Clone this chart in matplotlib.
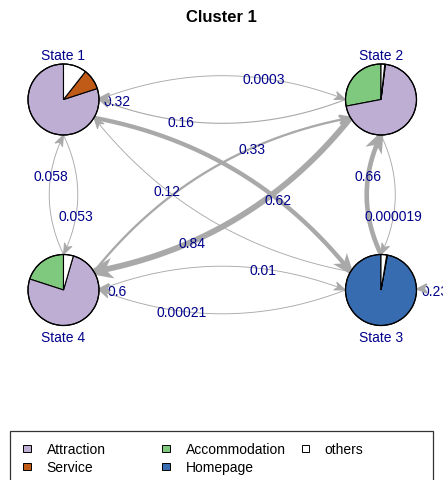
import numpy as np
import matplotlib
matplotlib.use("Agg")
import matplotlib.pyplot as plt
from matplotlib.patches import Wedge, Polygon, Rectangle

# ---- data -------------------------------------------------------------
states = ["State 1", "State 2", "State 3", "State 4"]

# observed symbols (legend order) and their colours
symbols = ["Attraction", "Service", "Accommodation", "Homepage", "others"]
symbol_colors = ["#BEAED4", "#BF5B17", "#7FC97F", "#386CB0", "#FFFFFF"]

# emission probabilities per hidden state, columns follow `symbols`
emission_s1 = [0.800, 0.094, 0.000, 0.000, 0.106]
emission_s2 = [0.700, 0.003, 0.280, 0.000, 0.017]
emission_s3 = [0.000, 0.003, 0.000, 0.971, 0.026]
emission_s4 = [0.755, 0.000, 0.200, 0.000, 0.045]
emissions = [emission_s1, emission_s2, emission_s3, emission_s4]

# transition probabilities (from, to, probability)
trans_from = [0, 0, 0, 0, 1, 1, 1, 2, 2, 2, 2, 3, 3, 3, 3]
trans_to   = [0, 1, 2, 3, 0, 2, 3, 0, 1, 2, 3, 0, 1, 2, 3]
trans_prob = [0.32, 0.0003, 0.62, 0.053,
              0.16, 0.000019, 0.84,
              0.12, 0.66, 0.23, 0.00021,
              0.058, 0.33, 0.01, 0.6]

# ---- layout (pixel space) ----------------------------------------------
W, H = 443, 481
node_xy = {0: (63.5, 100.5), 1: (381.0, 100.5), 2: (381.0, 291.0), 3: (63.5, 291.0)}
node_r = 35.5
label_below = {0: False, 1: False, 2: True, 3: True}
pie_order = [2, 0, 3, 1, 4]          # slice order counter-clockwise from 12 o'clock
edge_color = "#A9A9A9"
text_color = "#00008B"
curv = 0.15
label_t = 2.0 / 3.0

plt.rcParams["font.family"] = ["Liberation Sans", "DejaVu Sans"]

fig = plt.figure(figsize=(W / 100, H / 100), dpi=100)
ax = fig.add_axes([0, 0, 1, 1])
ax.set_xlim(0, W)
ax.set_ylim(H, 0)
ax.axis("off")


def fmt(p):
    return np.format_float_positional(p, trim="-")


def edge_width(p):
    return max(0.9, 7.0 * p)


def arrow_head(tip, u, w, length=11.0, half=4.2, notch=3.0, z=4):
    u = np.asarray(u) / np.linalg.norm(u)
    perp = np.array([-u[1], u[0]])
    tip = np.asarray(tip)
    pts = [tip,
           tip - length * u + half * perp,
           tip - (length - notch) * u,
           tip - length * u - half * perp]
    ax.add_patch(Polygon(pts, closed=True, facecolor=edge_color,
                         edgecolor=edge_color, lw=w * 0.72,
                         joinstyle="miter", zorder=z))
    return length - notch


# ---- self transitions ---------------------------------------------------
for f, t, p in zip(trans_from, trans_to, trans_prob):
    if f != t:
        continue
    cx, cy = node_xy[f]
    w = edge_width(p)
    tip = np.array([cx + node_r + 0.5, cy - 1.0])
    ax.text(cx + node_r + 18.5, cy + 5, fmt(p), color=text_color,
            fontsize=10, ha="center", va="baseline", zorder=3)
    arrow_head(tip, (-1.0, 0.05), min(w, 2.2), length=10.0, half=4.5, z=4)

# ---- transitions between states -----------------------------------------
tt = np.linspace(0, 1, 400)
for f, t, p in zip(trans_from, trans_to, trans_prob):
    if f == t:
        continue
    c0 = np.array(node_xy[f])
    c1 = np.array(node_xy[t])
    L = np.linalg.norm(c1 - c0)
    d = (c1 - c0) / L
    n = np.array([d[1], -d[0]])
    p0 = c0 + node_r * d
    p2 = c1 - node_r * d
    ctrl = (p0 + p2) / 2 + curv * L * n
    pts = ((1 - tt)[:, None] ** 2) * p0 + (2 * tt * (1 - tt))[:, None] * ctrl \
        + (tt[:, None] ** 2) * p2
    w = edge_width(p)
    back = arrow_head(p2, p2 - ctrl, w, z=2.5)
    keep = np.linalg.norm(pts - p2, axis=1) >= back
    ax.plot(pts[keep, 0], pts[keep, 1], color=edge_color, lw=w * 0.72,
            solid_capstyle="butt", zorder=2)
    lt = label_t
    lp = (1 - lt) ** 2 * p0 + 2 * lt * (1 - lt) * ctrl + lt ** 2 * p2
    ax.text(lp[0], lp[1] + 5, fmt(p), color=text_color, fontsize=10,
            ha="center", va="baseline", zorder=3)

# ---- pies for the hidden states -----------------------------------------
for i, name in enumerate(states):
    cx, cy = node_xy[i]
    probs = np.array(emissions[i])[pie_order]
    cols = [symbol_colors[k] for k in pie_order]
    probs = probs / probs.sum()
    start = 0.0
    for pr, col in zip(probs, cols):
        if pr <= 0:
            continue
        end = start + pr * 360.0
        ax.add_patch(Wedge((cx, cy), node_r, -90 - end, -90 - start,
                           facecolor=col, edgecolor="black", lw=0.8, zorder=5))
        start = end
    ax.add_patch(Wedge((cx, cy), node_r, 0, 360, facecolor="none",
                       edgecolor="black", lw=0.9, zorder=6))
    ly = cy + node_r + 15.5 if label_below[i] else cy - node_r - 4.5
    ax.text(cx, ly, name, color=text_color, fontsize=10, ha="center",
            va="baseline", zorder=7)

# ---- title ----------------------------------------------------------------
ax.text(W / 2, 22.5, "Cluster 1", fontsize=12, fontweight="bold",
        ha="center", va="baseline", color="black")

# ---- legend -----------------------------------------------------------------
ax.add_patch(Rectangle((10, 432), 423, 80, facecolor="white",
                       edgecolor="#333333", lw=0.9, zorder=1))
col_x = [27.0, 166.0, 305.3]
row_y = [449.3, 467.7]
sq = 7.5
for k, (sym, col) in enumerate(zip(symbols, symbol_colors)):
    cx = col_x[k // 2]
    cy = row_y[k % 2]
    ax.add_patch(Rectangle((cx - sq / 2, cy - sq / 2), sq, sq, facecolor=col,
                           edgecolor="black", lw=0.7, zorder=2))
    ax.text(cx + 19.5, cy + 4.3, sym, fontsize=10, ha="left",
            va="baseline", color="black", zorder=2)

fig.savefig("out.png", dpi=100)
